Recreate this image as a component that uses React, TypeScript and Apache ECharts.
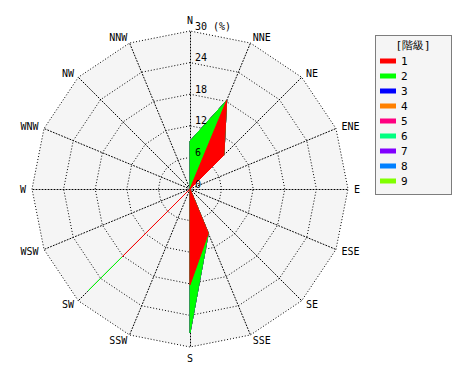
import React, { useEffect, useRef } from 'react';
import * as echarts from 'echarts';

// 16 compass directions, clockwise from north
const directions = ['N', 'NNE', 'NE', 'ENE', 'E', 'ESE', 'SE', 'SSE', 'S', 'SSW', 'SW', 'WSW', 'W', 'WNW', 'NW', 'NNW'];
const classNames = ['1', '2', '3', '4', '5', '6', '7', '8', '9'];
const classColors = ['#ff0000', '#00ff00', '#0000ff', '#ff8000', '#ff0080', '#00ff80', '#8000ff', '#0080ff', '#80ff00'];

// frequency (%) per direction, clockwise from N
const class1 = [0, 18.2, 9.1, 0, 0, 0, 0, 9.1, 18.2, 0, 18.2, 0, 0, 0, 0, 0];
const class2 = [9.1, 0, 0, 0, 0, 0, 0, 0, 9.1, 0, 9.1, 0, 0, 0, 0, 0];
const class3 = [0, 0, 0, 0, 0, 0, 0, 0, 0, 0, 0, 0, 0, 0, 0, 0];
const class4 = [0, 0, 0, 0, 0, 0, 0, 0, 0, 0, 0, 0, 0, 0, 0, 0];
const class5 = [0, 0, 0, 0, 0, 0, 0, 0, 0, 0, 0, 0, 0, 0, 0, 0];
const class6 = [0, 0, 0, 0, 0, 0, 0, 0, 0, 0, 0, 0, 0, 0, 0, 0];
const class7 = [0, 0, 0, 0, 0, 0, 0, 0, 0, 0, 0, 0, 0, 0, 0, 0];
const class8 = [0, 0, 0, 0, 0, 0, 0, 0, 0, 0, 0, 0, 0, 0, 0, 0];
const class9 = [0, 0, 0, 0, 0, 0, 0, 0, 0, 0, 0, 0, 0, 0, 0, 0];
const classValues = [class1, class2, class3, class4, class5, class6, class7, class8, class9];

const radiusMax = 30;
const radiusSplits = 5;
const legendTitle = '[階級]';

const FONT = 'DejaVu Sans Mono';

export default function App() {
  const ref = useRef<HTMLDivElement>(null);
  useEffect(() => {
    if (!ref.current) return;
    const chart = echarts.init(ref.current, null, { renderer: 'svg' });

    // radar lays indicators counter-clockwise: reorder clockwise lists
    const toRadar = (arr: any[]) => [arr[0], ...arr.slice(1).reverse()];

    // cumulative (stacked) values
    const cumulative: number[][] = [];
    classValues.forEach((vals, k) => {
      cumulative.push(vals.map((v, i) => v + (k > 0 ? cumulative[k - 1][i] : 0)));
    });

    const makeIndicators = (withLabel: boolean) =>
      toRadar(directions).map((d: string, i: number) => {
        const ind: any = { name: d, min: 0, max: radiusMax };
        if (withLabel && i === 0) {
          ind.axisLabel = {
            show: true,
            showMinLabel: true,
            showMaxLabel: true,
            color: '#000',
            fontFamily: FONT,
            fontSize: 10,
            margin: -5,
            align: 'left',
            verticalAlign: 'bottom',
            formatter: (v: number) => (v === radiusMax ? v + ' (%)' : String(v)),
          };
        }
        return ind;
      });

    const series: any[] = [];
    for (let k = classNames.length - 1; k >= 0; k--) {
      const c = classColors[k];
      series.push({
        type: 'radar',
        radarIndex: 0,
        name: classNames[k],
        color: c,
        symbol: 'none',
        silent: true,
        itemStyle: { color: c },
        lineStyle: { color: c, width: 1 },
        areaStyle: { color: c, opacity: 1 },
        data: [
          {
            name: classNames[k],
            value: toRadar(cumulative[k]),
            itemStyle: { color: c },
            lineStyle: { color: c, width: 1 },
            areaStyle: { color: c, opacity: 1 },
          },
        ],
      });
    }

    const common = {
      center: [190, 189],
      radius: 158,
      startAngle: 90,
      shape: 'polygon',
      splitNumber: radiusSplits,
    };

    chart.setOption({
      animation: false,
      color: classColors.slice().reverse(),
      radar: [
        {
          ...common,
          indicator: makeIndicators(false),
          axisName: { color: '#000', fontFamily: FONT, fontSize: 10 },
          nameGap: 6,
          axisLabel: { show: false },
          axisTick: { show: false },
          axisLine: { lineStyle: { color: '#000', width: 1, type: [1, 2] } },
          splitLine: { lineStyle: { color: '#000', width: 1, type: [1, 2] } },
          splitArea: { show: true, areaStyle: { color: ['#f5f5f5'] } },
          z: 1,
        },
        {
          ...common,
          indicator: makeIndicators(true),
          axisName: { show: false },
          axisLabel: { show: false },
          axisTick: { show: false },
          axisLine: { show: false },
          splitLine: { show: false },
          splitArea: { show: false },
          z: 8,
        },
      ],
      legend: {
        orient: 'vertical',
        left: 375,
        top: 35,
        data: classNames,
        icon: 'rect',
        itemWidth: 16,
        itemHeight: 5,
        itemGap: 3,
        padding: [20, 44, 10, 5],
        selectedMode: false,
        textStyle: { color: '#000', fontFamily: FONT, fontSize: 11, lineHeight: 12 },
        z: 10,
      },
      graphic: [
        {
          type: 'rect',
          z: 5,
          silent: true,
          shape: { x: 375.5, y: 35.5, width: 76, height: 159 },
          style: { fill: '#f5f5f5', stroke: '#000', lineWidth: 1, lineDash: [1, 1] },
        },
        {
          type: 'text',
          z: 6,
          silent: true,
          x: 413,
          y: 45,
          style: {
            text: legendTitle,
            fill: '#000',
            font: `11px "${FONT}"`,
            textAlign: 'center',
            textVerticalAlign: 'middle',
          },
        },
      ],
      series,
    });
    return () => chart.dispose();
  }, []);
  return <div ref={ref} style={{ width: 470, height: 380, position: 'absolute', left: 0, top: 0 }} />;
}
